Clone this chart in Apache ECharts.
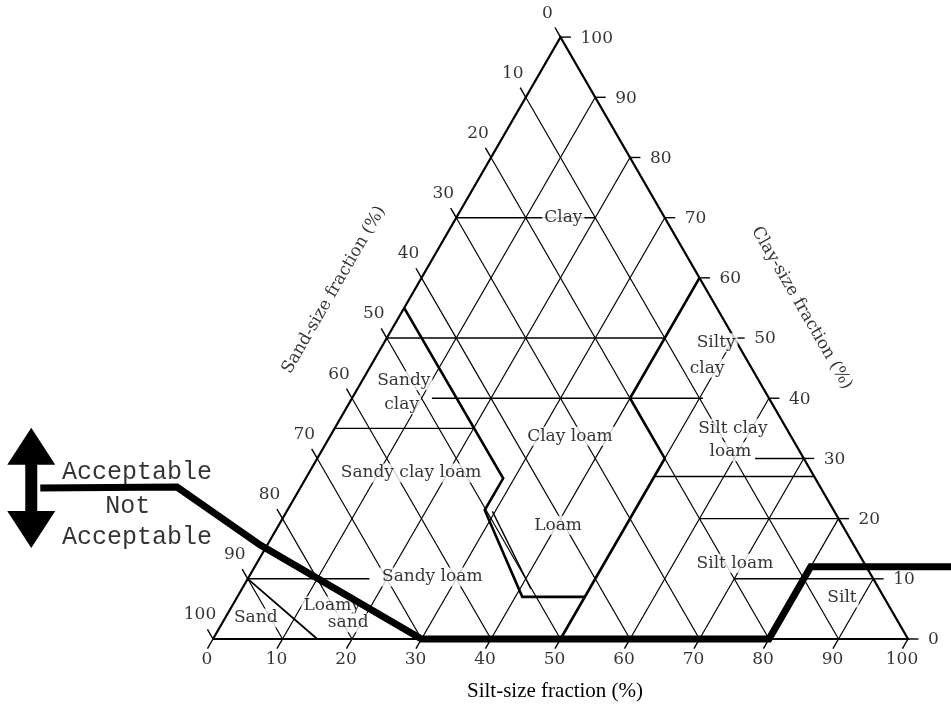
<!DOCTYPE html>
<html>
<head>
<meta charset="utf-8">
<script src="https://cdn.jsdelivr.net/npm/echarts@6/dist/echarts.min.js"></script>
<style>
  html, body { margin: 0; padding: 0; background: #fff; }
  #chart { width: 951px; height: 709px; }
</style>
</head>
<body>
<div id="chart"></div>
<script>
// 刻度值 (%)
const tickValues = [0, 10, 20, 30, 40, 50, 60, 70, 80, 90, 100];
const gridValues = [10, 20, 30, 40, 50, 60, 70, 80, 90];

// 质地分类名称及位置 [粉粒%, 黏粒%]
const classNames = ['Clay', 'Silty', 'clay', 'Sandy', 'clay', 'Clay loam', 'Silt clay', 'loam',
  'Sandy clay loam', 'Loam', 'Silt loam', 'Sandy loam', 'Sand', 'Loamy', 'sand', 'Silt'];
const classSilt = [15.4, 47.8, 48.6, 6.0, 7.7, 34.5, 57.3, 58.9, 14.7, 40.2, 68.8, 26.4, 4.4, 14.4, 18.1, 87.1];
const classClay = [70, 49.2, 45.0, 42.9, 38.9, 33.7, 35.0, 31.1, 27.6, 18.9, 12.6, 10.3, 3.5, 5.5, 2.7, 6.8];

// 粗分类边界 [粉粒%, 黏粒%]
const boldBounds = [
  [[0, 55], [28.4, 26.7], [28.4, 21.4], [41, 7], [50, 7]],
  [[40, 60], [40, 40], [50, 30], [50, 0]]
];
// 细分类边界及引线
const thinBounds = [
  [[0, 70], [20, 70]],
  [[0, 50], [40, 50]],
  [[11.5, 40], [50.5, 40]],
  [[0, 35], [20, 35]],
  [[50, 27], [73, 27]],
  [[60, 20], [80, 20]],
  [[0, 10], [17.5, 10]],
  [[70, 10], [90, 10]],
  [[63, 30], [70, 30]],
  [[29.6, 21.2], [41.6, 8.3]]
];
const sandBound = [[0, 10], [15, 0]];

// 可接受/不可接受分界线
const acceptLine = [[-37.4, 25.1], [-17.8, 25.25], [-1, 15.6], [30, 0], [80, 0], [80, 12], [101, 12]];
const arrowEnds = [[-43.7, 35.1], [-33.8, 15.1]];
const acceptTexts = ['Acceptable', 'Not', 'Acceptable'];
const acceptTextPos = [[-24.8, 27.7], [-23.3, 22.1], [-19.4, 16.95]];

// 坐标轴标题
const axisTitles = ['Sand-size fraction (%)', 'Clay-size fraction (%)'];
const axisTitlePos = [[-11.6, 58.0], [57.2, 55.0]];

const PX = 6.95; // 每单位像素
const SQ = Math.sqrt(3) / 2;
const toXY = p => [p[0] + p[1] / 2, p[1] * SQ];

let gridLines = [];
gridValues.forEach(v => {
  gridLines.push({ coords: [toXY([v, 0]), toXY([v, 100 - v])] }); //等粉粒线
  gridLines.push({ coords: [toXY([0, 100 - v]), toXY([100 - v, 0])] }); //等砂粒线
});
let tickLines = [];
tickValues.forEach(v => {
  tickLines.push({ coords: [toXY([v, 0]), toXY([v, -1.6])] });
  tickLines.push({ coords: [toXY([0, 100 - v]), toXY([-1.6, 100 - v + 1.6])] });
  tickLines.push({ coords: [toXY([100 - v, v]), toXY([100 - v + 1.5, v])] });
});

const serif = 'DejaVu Serif';
const lineSeries = (data, width, z) => ({
  type: 'lines',
  coordinateSystem: 'cartesian2d',
  polyline: true,
  silent: true,
  z: z,
  lineStyle: { color: '#000', width: width, opacity: 1 },
  data: data
});
const textSeries = (data, label, z) => ({
  type: 'scatter',
  symbolSize: 0,
  silent: true,
  z: z,
  label: Object.assign({ show: true, position: 'inside', formatter: '{b}', color: '#000' }, label),
  data: data
});

const chart = echarts.init(document.getElementById('chart'));
chart.setOption({
  animation: false,
  backgroundColor: '#fff',
  title: {
    text: 'Silt-size fraction (%)',
    left: 462,
    top: 676,
    textStyle: { fontFamily: 'Liberation Serif', fontSize: 21, fontWeight: 'normal', color: '#000' }
  },
  grid: { left: 0, right: 0, top: 0, bottom: 0 },
  xAxis: { type: 'value', min: -213 / PX, max: (951 - 213) / PX, show: false },
  yAxis: { type: 'value', min: (639 - 709) / PX, max: 639 / PX, show: false },
  series: [
    lineSeries(gridLines, 1.2, 1),
    lineSeries(tickLines, 1.4, 1),
    lineSeries([{ coords: [[0, 0], [100, 0], [0, 100], [0, 0]].map(toXY) }], 2.2, 2),
    lineSeries(thinBounds.map(b => ({ coords: b.map(toXY) })), 1.4, 2),
    lineSeries([{ coords: sandBound.map(toXY) }], 1.8, 2),
    lineSeries(boldBounds.map(b => ({ coords: b.map(toXY) })), 2.6, 2),
    textSeries(classNames.map((n, i) => ({ name: n, value: toXY([classSilt[i], classClay[i]]) })),
      { fontFamily: serif, fontSize: 17, backgroundColor: '#fff', padding: [1, 2] }, 3),
    textSeries(tickValues.map(v => ({ name: String(v), value: toXY([v, 0]) })),
      { fontFamily: serif, fontSize: 17, offset: [-6, 21] }, 3),
    textSeries(tickValues.map(v => ({ name: String(v), value: toXY([100 - v, v]) })),
      { fontFamily: serif, fontSize: 17, offset: [20, 1], align: 'left' }, 3),
    textSeries(tickValues.map(v => ({ name: String(v), value: toXY([0, 100 - v]) })),
      { fontFamily: serif, fontSize: 17, offset: [-13, -24] }, 3),
    textSeries(axisTitles.map((n, i) => ({ name: n, value: toXY(axisTitlePos[i]), label: { rotate: i === 0 ? 60 : -60 } })),
      { fontFamily: serif, fontSize: 17 }, 3),
    textSeries(acceptTexts.map((n, i) => ({ name: n, value: toXY(acceptTextPos[i]) })),
      { fontFamily: 'Liberation Mono', fontSize: 25 }, 4),
    lineSeries([{ coords: acceptLine.map(toXY) }], 7, 5),
    {
      type: 'custom',
      silent: true,
      z: 5,
      data: [toXY(arrowEnds[0]).concat(toXY(arrowEnds[1]))],
      renderItem: (params, api) => {
        const top = api.coord([api.value(0), api.value(1)]);
        const bot = api.coord([api.value(2), api.value(3)]);
        const x = top[0], hw = 24, hh = 37, sw = 6;
        return {
          type: 'polygon',
          shape: {
            points: [
              [x, top[1]], [x + hw, top[1] + hh], [x + sw, top[1] + hh], [x + sw, bot[1] - hh],
              [x + hw, bot[1] - hh], [x, bot[1]], [x - hw, bot[1] - hh], [x - sw, bot[1] - hh],
              [x - sw, top[1] + hh], [x - hw, top[1] + hh]
            ]
          },
          style: { fill: '#000' }
        };
      }
    }
  ]
});
</script>
</body>
</html>
